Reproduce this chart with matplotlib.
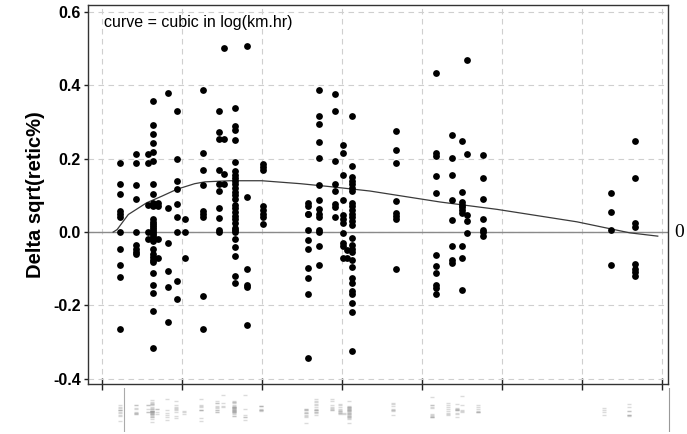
import matplotlib
matplotlib.use("Agg")
import matplotlib.pyplot as plt
import matplotlib.transforms as mtransforms

# Posiciones de cada grupo (escala log(km.hr), sin etiquetas)
col_x = [0.23, 0.43, 0.58, 0.64, 0.70, 0.83, 0.94, 1.04, 1.26, 1.46, 1.53,
         1.67, 1.81, 2.01, 2.58, 2.71, 2.91, 3.01, 3.06, 3.13, 3.68, 4.18,
         4.38, 4.50, 4.56, 4.76, 6.36, 6.67]

# Delta sqrt(retic%) para cada grupo
col_y = [
    [0.189, 0.132, 0.105, 0.057, 0.05, 0.041, 0.0, -0.045, -0.09, -0.121, -0.264],
    [0.212, 0.189, 0.128, 0.091, 0.0, -0.036, -0.045, -0.053, -0.06],
    [0.212, 0.189, 0.074, 0.0, -0.02],
    [0.356, 0.291, 0.267, 0.242, 0.219, 0.194, 0.132, 0.105, 0.08, 0.071, 0.035,
     0.028, 0.022, 0.016, 0.01, 0.005, 0.0, -0.005, -0.01, -0.025, -0.047, -0.06,
     -0.068, -0.075, -0.082, -0.111, -0.143, -0.166, -0.214, -0.316],
    [0.08, 0.072, -0.02, -0.07],
    [0.379, 0.065, -0.029, -0.106, -0.149, -0.245],
    [0.33, 0.2, 0.139, 0.117, 0.077, 0.041, 0.0, -0.134, -0.182],
    [0.037, 0.0, -0.07],
    [0.387, 0.215, 0.169, 0.129, 0.057, 0.05, 0.04, -0.175, -0.264],
    [0.33, 0.273, 0.253, 0.169, 0.13, 0.112, 0.066, 0.039, 0.005, 0.0],
    [0.501, 0.255, 0.159, 0.132],
    [0.338, 0.288, 0.279, 0.25, 0.19, 0.166, 0.155, 0.148, 0.14, 0.13, 0.12, 0.11,
     0.1, 0.09, 0.075, 0.067, 0.055, 0.045, 0.035, 0.025, 0.01, 0.005, 0.0,
     -0.02, -0.04, -0.065, -0.12, -0.138],
    [0.506, 0.096, -0.1, -0.145, -0.15, -0.254],
    [0.185, 0.178, 0.17, 0.07, 0.06, 0.05, 0.04, 0.022],
    [0.08, 0.072, 0.05, 0.048, 0.007, -0.022, -0.045, -0.097, -0.125, -0.169, -0.344],
    [0.387, 0.317, 0.294, 0.246, 0.201, 0.129, 0.088, 0.063, 0.05, 0.041, 0.005,
     0.0, -0.038, -0.09],
    [0.376, 0.33, 0.194, 0.132, 0.112, 0.076, 0.068, 0.041],
    [0.237, 0.216, 0.156, 0.088, 0.046, 0.035, 0.025, -0.003, -0.03, -0.038, -0.07],
    [-0.049, -0.07],
    [0.317, 0.18, 0.15, 0.14, 0.13, 0.12, 0.112, 0.08, 0.07, 0.06, 0.05, 0.04, 0.03,
     0.02, -0.015, -0.035, -0.045, -0.055, -0.075, -0.095, -0.125, -0.14, -0.16,
     -0.17, -0.193, -0.217, -0.324],
    [0.276, 0.224, 0.188, 0.085, 0.053, 0.045, 0.037, -0.1],
    [0.433, 0.215, 0.208, 0.153, 0.106, -0.063, -0.093, -0.111, -0.143, -0.152, -0.169],
    [0.265, 0.201, 0.157, 0.087, 0.033, -0.039, -0.075, -0.084],
    [0.248, 0.109, 0.083, 0.075, 0.068, 0.06, 0.053, -0.039, -0.07, -0.159],
    [0.469, 0.214, 0.046, 0.03, -0.002],
    [0.21, 0.148, 0.091, 0.036, 0.007, 0.0, -0.011],
    [0.106, 0.055, 0.006, -0.09],
    [0.248, 0.148, 0.025, 0.014, -0.087, -0.1, -0.11, -0.12],
]

# Curva ajustada (cubica en log(km.hr))
curva_x = [0.14, 0.19, 0.33, 0.56, 0.75, 0.94, 1.16, 1.29, 1.6, 2.0, 2.48,
           2.85, 3.1, 3.35, 4.23, 4.94, 5.94, 6.6, 6.95]
curva_y = [0.0, 0.007, 0.048, 0.08, 0.098, 0.117, 0.132, 0.137, 0.14, 0.14,
           0.132, 0.124, 0.118, 0.112, 0.082, 0.062, 0.028, -0.002, -0.011]

y_ticks = [-0.4, -0.2, 0.0, 0.2, 0.4, 0.6]
x_ticks = [0, 1, 2, 3, 4, 5, 6, 7]

xs = [x for x, ys in zip(col_x, col_y) for _ in ys]
yv = [y for ys in col_y for y in ys]

fig = plt.figure(figsize=(6.87, 4.34), dpi=100)
ax = fig.add_axes([0.128, 0.1152, 0.844, 0.8733])

ax.set_xlim(-0.175, 7.075)
ax.set_ylim(-0.414, 0.619)

# cuadricula punteada
ax.set_xticks(x_ticks)
ax.set_yticks(y_ticks)
ax.grid(True, color='#cfcfcf', linestyle=(0, (5, 4)), linewidth=0.8)
ax.set_axisbelow(True)

ax.axhline(0, color='#8a8a8a', linewidth=1.0, zorder=1)
ax.plot(curva_x, curva_y, color='#3a3a3a', linewidth=0.9, zorder=2)
ax.scatter(xs, yv, s=24, color='black', linewidths=0, zorder=3)

for s in ax.spines.values():
    s.set_color('#333333')
    s.set_linewidth(1.0)

ax.set_xticklabels([])
ax.tick_params(axis='x', direction='inout', length=8, width=1, color='#222222')
ax.tick_params(axis='y', direction='out', length=3, width=1, pad=2,
               color='#222222', labelsize=11.5)
ax.set_yticklabels([f"{t:.1f}" for t in y_ticks], fontfamily='Liberation Sans',
                   fontweight='bold')

ax.set_ylabel("Delta sqrt(retic%)", fontsize=14.5, fontweight='bold',
              fontfamily='Liberation Sans', labelpad=6)

ax.text(0.028, 0.955, "curve = cubic in log(km.hr)", transform=ax.transAxes,
        fontsize=11.5, fontfamily='Liberation Sans', va='center', ha='left')

trans = mtransforms.blended_transform_factory(ax.transAxes, ax.transData)
ax.text(1.012, 0, "0", transform=trans, fontsize=14,
        fontfamily='Liberation Serif', va='center', ha='left')

# franja inferior tenue con los mismos puntos comprimidos
ax2 = fig.add_axes([0.128, 0.005, 0.86, 0.1])
ax2.set_xlim(-0.175, 7.3)
ax2.set_ylim(-0.6, 0.7)
ax2.plot(xs, yv, linestyle='none', marker='_', markersize=3.5,
         color='#999999', alpha=0.35)
ax2.axvline(0.28, color='#aaaaaa', linewidth=0.8)
ax2.axvline(7.18, color='#999999', linewidth=0.8)
ax2.axis('off')

fig.savefig("out.png", dpi=100)
